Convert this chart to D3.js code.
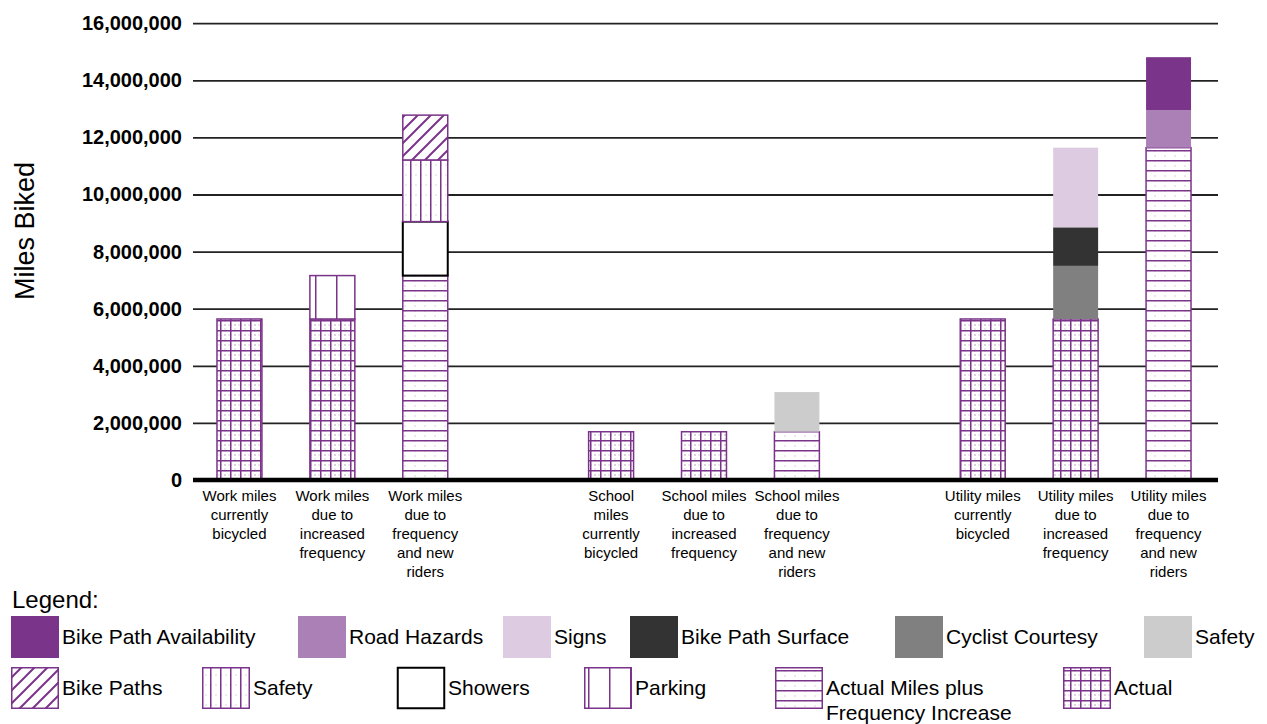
<!DOCTYPE html>
<html><head><meta charset="utf-8">
<script src="https://cdn.jsdelivr.net/npm/d3@7"></script>
<style>body{margin:0;background:#fff;} text{font-family:"Liberation Sans",Arial,Helvetica,sans-serif;fill:#000;}</style>
</head><body>
<svg id="c" width="1267" height="724"></svg>
<script>
// ---------- DATA ----------
const categories = ["work_current","work_freq","work_new","gap1","school_current","school_freq","school_new","gap2","utility_current","utility_freq","utility_new"];
const categoryLabels = [
  ["Work miles","currently","bicycled"],
  ["Work miles","due to","increased","frequency"],
  ["Work miles","due to","frequency","and new","riders"],
  [],
  ["School","miles","currently","bicycled"],
  ["School miles","due to","increased","frequency"],
  ["School miles","due to","frequency","and new","riders"],
  [],
  ["Utility miles","currently","bicycled"],
  ["Utility miles","due to","increased","frequency"],
  ["Utility miles","due to","frequency","and new","riders"]
];
const yTicks = [0,2000000,4000000,6000000,8000000,10000000,12000000,14000000,16000000];

const actual            = [5640000,5640000,0,0,1690000,1690000,0,0,5640000,5640000,0];
const actualPlusFreq    = [0,0,7160000,0,0,0,1690000,0,0,0,11640000];
const parking           = [0,1520000,0,0,0,0,0,0,0,0,0];
const showers           = [0,0,1890000,0,0,0,0,0,0,0,0];
const safetyLines       = [0,0,2160000,0,0,0,0,0,0,0,0];
const bikePaths         = [0,0,1570000,0,0,0,0,0,0,0,0];
const cyclistCourtesy   = [0,0,0,0,0,0,0,0,0,1860000,0];
const bikePathSurface   = [0,0,0,0,0,0,0,0,0,1350000,0];
const signs             = [0,0,0,0,0,0,0,0,0,2790000,0];
const safetyGray        = [0,0,0,0,0,0,1390000,0,0,0,0];
const roadHazards       = [0,0,0,0,0,0,0,0,0,0,1320000];
const bikePathAvail     = [0,0,0,0,0,0,0,0,0,0,1850000];

const seriesKeys = ["actual","actualPlusFreq","parking","showers","safetyLines","bikePaths","cyclistCourtesy","bikePathSurface","signs","safetyGray","roadHazards","bikePathAvail"];
const seriesValues = {actual,actualPlusFreq,parking,showers,safetyLines,bikePaths,cyclistCourtesy,bikePathSurface,signs,safetyGray,roadHazards,bikePathAvail};

const legendRow1 = [["bikePathAvail","Bike Path Availability"],["roadHazards","Road Hazards"],["signs","Signs"],["bikePathSurface","Bike Path Surface"],["cyclistCourtesy","Cyclist Courtesy"],["safetyGray","Safety"]];
const legendRow2 = [["bikePaths","Bike Paths"],["safetyLines","Safety"],["showers","Showers"],["parking","Parking"],["actualPlusFreq","Actual Miles plus\nFrequency Increase"],["actual","Actual"]];

// ---------- STYLE ----------
const PURPLE = "#7A3489";
const fills = {
  actual:"url(#pGrid)", actualPlusFreq:"url(#pHoriz)", parking:"url(#pParking)", showers:"#ffffff",
  safetyLines:"url(#pVert)", bikePaths:"url(#pDiag)", cyclistCourtesy:"#808080", bikePathSurface:"#333333",
  signs:"#DDCBE1", safetyGray:"#CCCCCC", roadHazards:"#AB80B6", bikePathAvail:"#7A3489"
};
const strokes = {actual:PURPLE,actualPlusFreq:PURPLE,parking:PURPLE,safetyLines:PURPLE,bikePaths:PURPLE,showers:"#000"};

const svg = d3.select("#c");
const defs = svg.append("defs");
function pat(id,w,h,draw){
  const p = defs.append("pattern").attr("id",id).attr("patternUnits","userSpaceOnUse").attr("width",w).attr("height",h);
  p.append("rect").attr("width",w).attr("height",h).attr("fill","#fff");
  draw(p);
}
pat("pGrid",10,10,p=>{
  p.append("path").attr("d","M0,5H10M5,0V10").attr("stroke",PURPLE).attr("stroke-width",1).attr("stroke-opacity",0.25).attr("stroke-dasharray","2,2");
  p.append("path").attr("d","M0,0.5H10M0.5,0V10").attr("stroke",PURPLE).attr("stroke-width",2);
});
pat("pHoriz",10,10,p=>{
  p.append("path").attr("d","M5,0V10").attr("stroke",PURPLE).attr("stroke-width",1).attr("stroke-opacity",0.25).attr("stroke-dasharray","2,3");
  p.append("path").attr("d","M0,0.5H10").attr("stroke",PURPLE).attr("stroke-width",2);
});
pat("pVert",10,10,p=>{
  p.append("path").attr("d","M0,5H10").attr("stroke",PURPLE).attr("stroke-width",1).attr("stroke-opacity",0.2).attr("stroke-dasharray","2,3");
  p.append("path").attr("d","M0.5,0V10").attr("stroke",PURPLE).attr("stroke-width",2);
});
pat("pParking",21,10,p=>{
  p.append("path").attr("d","M0.5,0V10").attr("stroke",PURPLE).attr("stroke-width",2);
});
pat("pDiag",13,13,p=>{
  p.append("path").attr("d","M0,13L13,0M-2,2L2,-2M11,15L15,11").attr("stroke",PURPLE).attr("stroke-width",2);
});

// ---------- SCALES ----------
const x = d3.scaleBand().domain(categories).range([193,1215]).paddingInner(0.5).paddingOuter(0.25);
const y = d3.scaleLinear().domain([0,16000000]).range([480,23.2]);

// gridlines
const yAxis = d3.axisLeft(y).tickValues(yTicks).tickFormat(d3.format(",")).tickSize(-(1218-193)).tickPadding(11);
const gAx = svg.append("g").attr("transform","translate(193,0)").call(yAxis);
gAx.select(".domain").remove();
gAx.selectAll(".tick line").attr("stroke","#222").attr("stroke-width",1.8).attr("x1",0);
gAx.selectAll(".tick text").attr("font-size",20).attr("font-weight","bold").attr("font-family",'"Liberation Sans",Arial,sans-serif').attr("fill","#000");

// stacked bars
const rows = categories.map((c,i)=>{const r={cat:c}; seriesKeys.forEach(k=>r[k]=seriesValues[k][i]); return r;});
const stacked = d3.stack().keys(seriesKeys)(rows);
stacked.forEach(layer=>{
  const key = layer.key;
  svg.append("g").selectAll("rect").data(layer.filter(d=>d[1]-d[0]>0)).join("rect")
    .attr("x",d=>x(d.data.cat)+0.75)
    .attr("width",x.bandwidth()-1.5)
    .attr("y",d=>y(d[1]))
    .attr("height",d=>y(d[0])-y(d[1]))
    .attr("fill",fills[key])
    .attr("stroke",strokes[key]||"none")
    .attr("stroke-width",key==="showers"?2:1.5);
});

// baseline
svg.append("line").attr("x1",193).attr("x2",1218).attr("y1",y(0)).attr("y2",y(0)).attr("stroke","#000").attr("stroke-width",4.5);

// x labels
categories.forEach((c,i)=>{
  const t = svg.append("text").attr("text-anchor","middle").attr("font-size",15);
  categoryLabels[i].forEach((ln,j)=>{
    t.append("tspan").attr("x",x(c)+x.bandwidth()/2).attr("y",501+j*19).text(ln);
  });
});

// y title
svg.append("text").attr("transform","translate(34,231) rotate(-90)").attr("text-anchor","middle")
  .attr("font-size",27).text("Miles Biked");

// legend
svg.append("text").attr("x",12).attr("y",608).attr("font-size",24).text("Legend:");
const row1X = [11,298,503,630,895,1144];
const row2X = [11,202,397,584,775,1063];
function legendRow(items,xs,top){
  items.forEach(([k,name],i)=>{
    const sx = xs[i];
    const isPat = !!strokes[k];
    svg.append("rect").attr("x",sx+(isPat?0.75:0)).attr("y",top+(isPat?0.75:0))
      .attr("width",isPat?46.5:48).attr("height",isPat?40.5:42)
      .attr("fill",fills[k]).attr("stroke",strokes[k]||"none").attr("stroke-width",k==="showers"?2:1.5);
    const t = svg.append("text").attr("font-size",21);
    name.split("\n").forEach((ln,j)=>{
      t.append("tspan").attr("x",sx+51).attr("y",top+28+j*25).text(ln);
    });
  });
}
legendRow(legendRow1,row1X,616);
legendRow(legendRow2,row2X,667);
</script>
</body></html>
